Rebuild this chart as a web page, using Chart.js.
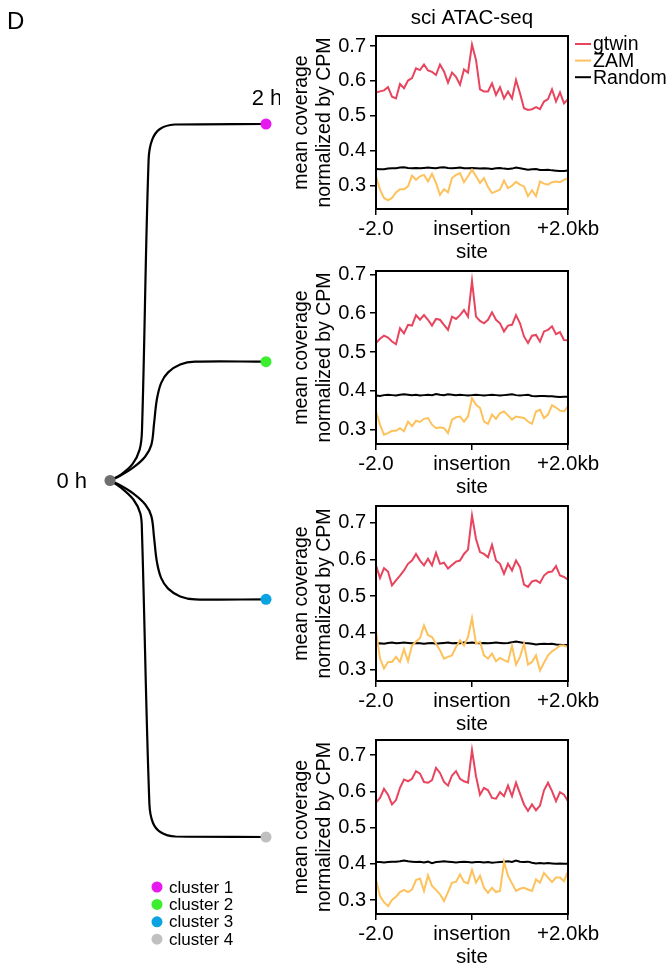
<!DOCTYPE html>
<html>
<head>
<meta charset="utf-8">
<title>sci ATAC-seq profiles</title>
<script src="https://cdn.jsdelivr.net/npm/chart.js@4.4.0/dist/chart.umd.min.js"></script>
<style>
  html, body { margin: 0; padding: 0; background: #fff; }
  #wrap { position: relative; width: 668px; height: 963px; overflow: hidden; }
  canvas { position: absolute; }
</style>
</head>
<body>
<div id="wrap">
  <canvas id="tree"></canvas>
  <canvas id="p1"></canvas>
  <canvas id="p2"></canvas>
  <canvas id="p3"></canvas>
  <canvas id="p4"></canvas>
</div>
<script>
// Profile bins: -2.0 kb .. +2.0 kb around the insertion site
const bins = [];
for (let i = 0; i <= 48; i++) bins.push(-2 + i / 12);
const xTicks = [-2, 0, 2];
const xTickLabels = ['-2.0', ['insertion', 'site'], '+2.0kb'];
const yTicks = [0.3, 0.4, 0.5, 0.6, 0.7];
const seriesNames = ['gtwin', 'ZAM', 'Random'];

// cluster 1
const gtwin1 = [0.567,0.570,0.573,0.582,0.555,0.550,0.591,0.579,0.601,0.608,0.636,0.631,0.647,0.630,0.626,0.617,0.647,0.627,0.595,0.624,0.612,0.589,0.633,0.624,0.704,0.660,0.576,0.570,0.570,0.593,0.560,0.582,0.550,0.570,0.550,0.603,0.565,0.522,0.517,0.519,0.525,0.519,0.541,0.548,0.576,0.541,0.567,0.536,0.548];
const zam1 = [0.327,0.289,0.265,0.258,0.265,0.281,0.290,0.290,0.298,0.329,0.317,0.327,0.331,0.312,0.334,0.308,0.274,0.290,0.281,0.322,0.331,0.336,0.310,0.327,0.346,0.327,0.308,0.322,0.296,0.279,0.284,0.289,0.315,0.293,0.300,0.311,0.303,0.298,0.270,0.287,0.270,0.312,0.306,0.303,0.310,0.312,0.310,0.317,0.322];
const random1 = [0.348,0.347,0.347,0.349,0.350,0.350,0.352,0.353,0.351,0.350,0.351,0.350,0.351,0.352,0.351,0.350,0.352,0.353,0.351,0.350,0.351,0.352,0.350,0.350,0.351,0.350,0.349,0.350,0.349,0.348,0.350,0.351,0.349,0.348,0.349,0.352,0.350,0.348,0.346,0.347,0.348,0.345,0.345,0.346,0.344,0.343,0.342,0.342,0.344];
// cluster 2
const gtwin2 = [0.523,0.534,0.542,0.537,0.527,0.520,0.561,0.548,0.570,0.568,0.595,0.583,0.595,0.583,0.568,0.585,0.583,0.570,0.557,0.591,0.585,0.595,0.608,0.591,0.683,0.591,0.580,0.574,0.583,0.602,0.583,0.574,0.553,0.568,0.570,0.595,0.574,0.540,0.523,0.542,0.544,0.527,0.553,0.557,0.566,0.546,0.551,0.531,0.530];
const zam2 = [0.347,0.313,0.287,0.291,0.297,0.297,0.304,0.296,0.321,0.309,0.323,0.320,0.328,0.330,0.313,0.304,0.306,0.304,0.291,0.326,0.332,0.334,0.321,0.334,0.381,0.364,0.356,0.321,0.315,0.339,0.328,0.343,0.347,0.337,0.326,0.334,0.332,0.330,0.321,0.315,0.347,0.351,0.330,0.339,0.363,0.357,0.349,0.347,0.360];
const random2 = [0.388,0.387,0.389,0.390,0.389,0.388,0.390,0.391,0.390,0.389,0.390,0.388,0.389,0.390,0.389,0.392,0.390,0.389,0.391,0.390,0.389,0.390,0.389,0.388,0.389,0.390,0.389,0.388,0.389,0.390,0.389,0.388,0.389,0.390,0.391,0.389,0.388,0.389,0.390,0.387,0.386,0.387,0.387,0.386,0.386,0.385,0.384,0.385,0.385];
// cluster 3
const gtwin3 = [0.584,0.549,0.576,0.567,0.529,0.543,0.556,0.570,0.588,0.597,0.615,0.597,0.584,0.602,0.584,0.618,0.588,0.591,0.575,0.585,0.594,0.597,0.615,0.627,0.720,0.656,0.620,0.615,0.606,0.640,0.597,0.588,0.561,0.588,0.570,0.597,0.579,0.531,0.525,0.540,0.543,0.536,0.556,0.565,0.567,0.582,0.556,0.552,0.545];
const zam3 = [0.404,0.330,0.302,0.320,0.320,0.334,0.320,0.355,0.322,0.365,0.376,0.385,0.420,0.393,0.388,0.370,0.352,0.329,0.334,0.338,0.361,0.379,0.365,0.388,0.440,0.370,0.375,0.338,0.329,0.343,0.322,0.331,0.325,0.320,0.364,0.313,0.334,0.370,0.313,0.320,0.338,0.297,0.318,0.338,0.349,0.356,0.365,0.365,0.361];
const random3 = [0.370,0.371,0.370,0.372,0.373,0.371,0.372,0.373,0.372,0.371,0.372,0.371,0.370,0.371,0.372,0.370,0.371,0.372,0.373,0.371,0.372,0.371,0.373,0.372,0.373,0.372,0.371,0.372,0.371,0.372,0.373,0.372,0.371,0.372,0.374,0.376,0.374,0.372,0.371,0.370,0.368,0.369,0.370,0.369,0.370,0.368,0.367,0.366,0.366];
// cluster 4
const gtwin4 = [0.569,0.582,0.607,0.591,0.564,0.576,0.610,0.633,0.628,0.635,0.656,0.649,0.626,0.624,0.631,0.665,0.651,0.626,0.616,0.644,0.656,0.635,0.628,0.624,0.714,0.642,0.591,0.610,0.603,0.582,0.580,0.598,0.587,0.616,0.587,0.624,0.594,0.564,0.546,0.564,0.548,0.561,0.603,0.624,0.601,0.573,0.598,0.591,0.573];
const zam4 = [0.357,0.311,0.294,0.283,0.300,0.309,0.322,0.328,0.322,0.329,0.355,0.359,0.325,0.368,0.339,0.328,0.316,0.297,0.322,0.348,0.350,0.371,0.350,0.346,0.383,0.348,0.367,0.334,0.320,0.334,0.322,0.325,0.405,0.367,0.346,0.325,0.331,0.334,0.329,0.325,0.357,0.348,0.375,0.362,0.350,0.362,0.362,0.352,0.380];
const random4 = [0.405,0.405,0.404,0.405,0.406,0.406,0.407,0.409,0.407,0.406,0.405,0.406,0.404,0.406,0.402,0.405,0.406,0.407,0.406,0.405,0.404,0.405,0.406,0.405,0.404,0.405,0.405,0.404,0.405,0.403,0.404,0.405,0.406,0.407,0.405,0.409,0.406,0.405,0.406,0.403,0.401,0.402,0.401,0.402,0.401,0.400,0.401,0.400,0.400];

// y limits of each panel
const yMins = [0.2334, 0.2632, 0.268, 0.2614];
const yMaxs = [0.7286, 0.7085, 0.746, 0.742];

// Tree: x = time (h), y = cluster row (root sits between rows 2 and 3)
const clusterNames = ['cluster 1', 'cluster 2', 'cluster 3', 'cluster 4'];
const clusterColors = ['#e619f0', '#3cee30', '#0aa3e2', '#c0c0c0'];
const rootColor = '#6e6e6e';
const treeNodes = [{x: 0, y: 2.5}, {x: 2, y: 1}, {x: 2, y: 2}, {x: 2, y: 3}, {x: 2, y: 4}];
const branch1 = [{x:0,y:2.5},{x:0.14,y:2.475},{x:0.29,y:2.43},{x:0.38,y:2.37},{x:0.41,y:2.29},{x:0.495,y:1.15},{x:0.54,y:1.067},{x:0.64,y:1.021},{x:0.83,y:1.002},{x:2,y:1}];
const branch2 = [{x:0,y:2.5},{x:0.13,y:2.48},{x:0.3,y:2.445},{x:0.45,y:2.4},{x:0.53,y:2.35},{x:0.565,y:2.26},{x:0.6,y:2.16},{x:0.655,y:2.09},{x:0.745,y:2.045},{x:0.9,y:2.012},{x:1.09,y:2},{x:2,y:2}];
const branch3 = [{x:0,y:2.5},{x:0.13,y:2.52},{x:0.3,y:2.555},{x:0.45,y:2.6},{x:0.53,y:2.65},{x:0.565,y:2.74},{x:0.6,y:2.84},{x:0.655,y:2.91},{x:0.745,y:2.955},{x:0.9,y:2.988},{x:1.09,y:3},{x:2,y:3}];
const branch4 = [{x:0,y:2.5},{x:0.14,y:2.53},{x:0.3,y:2.58},{x:0.39,y:2.64},{x:0.41,y:2.72},{x:0.505,y:3.86},{x:0.55,y:3.94},{x:0.65,y:3.98},{x:0.84,y:3.998},{x:2,y:4}];

const FONT = '"Liberation Sans", Arial, Helvetica, sans-serif';
const RED = '#e8445e';
const YELLOW = '#fdc25c';
Chart.defaults.font.family = FONT;
Chart.defaults.color = '#000';

// black box round the plot area
const framePlugin = {
  id: 'frame',
  afterDatasetsDraw(chart) {
    const { ctx, chartArea: a } = chart;
    ctx.save();
    ctx.strokeStyle = '#000';
    ctx.lineWidth = 2;
    ctx.strokeRect(a.left, a.top, a.right - a.left, a.bottom - a.top);
    ctx.restore();
  }
};

// line legend to the right of the first panel
const seriesLegend = {
  id: 'seriesLegend',
  afterDraw(chart) {
    const { ctx, chartArea: a } = chart;
    ctx.save();
    ctx.font = '19.5px ' + FONT;
    ctx.textBaseline = 'middle';
    chart.data.datasets.forEach((ds, i) => {
      const y = a.top + 8 + i * 16.6;
      ctx.strokeStyle = ds.borderColor;
      ctx.lineWidth = 2;
      ctx.beginPath();
      ctx.moveTo(a.right + 7, y);
      ctx.lineTo(a.right + 23, y);
      ctx.stroke();
      ctx.fillStyle = '#000';
      ctx.fillText(ds.label, a.right + 25, y + 1);
    });
    ctx.restore();
  }
};

function toPoints(vals) {
  return vals.map((v, i) => ({ x: bins[i], y: v }));
}

function makePanel(id, top, height, series, k) {
  const first = k === 0;
  const canvas = document.getElementById(id);
  canvas.width = 388;
  canvas.height = height;
  canvas.style.left = '280px';
  canvas.style.top = top + 'px';
  const colors = [RED, YELLOW, '#000'];
  return new Chart(canvas, {
    type: 'line',
    data: {
      datasets: series.map((vals, i) => ({
        label: seriesNames[i],
        data: toPoints(vals),
        borderColor: colors[i],
        borderWidth: 2,
        pointRadius: 0,
        tension: 0
      }))
    },
    options: {
      responsive: false,
      animation: false,
      devicePixelRatio: 1,
      layout: { padding: { top: first ? 0 : 18, right: 100, left: 0, bottom: 0 } },
      plugins: {
        legend: { display: false },
        tooltip: { enabled: false },
        title: {
          display: first,
          text: 'sci ATAC-seq',
          fullSize: false,
          color: '#000',
          font: { size: 20.5, weight: 'normal', lineHeight: 1.2 },
          padding: { top: 6.4, bottom: 5 }
        }
      },
      scales: {
        x: {
          type: 'linear',
          min: -2,
          max: 2,
          afterBuildTicks: s => { s.ticks = xTicks.map(v => ({ value: v })); },
          afterFit: s => { s.height = 60; },
          ticks: {
            autoSkip: false,
            maxRotation: 0,
            padding: 2.2,
            color: '#000',
            font: { size: 20.5, lineHeight: 1.15 },
            callback: v => xTickLabels[xTicks.indexOf(v)]
          },
          grid: { drawOnChartArea: false, tickLength: 6, color: '#000', lineWidth: 1.5 },
          border: { display: false }
        },
        y: {
          min: yMins[k],
          max: yMaxs[k],
          afterBuildTicks: s => { s.ticks = yTicks.map(v => ({ value: v })); },
          afterFit: s => { s.width = 96; },
          ticks: {
            padding: 4,
            color: '#000',
            font: { size: 20 },
            callback: v => v.toFixed(1)
          },
          grid: { drawOnChartArea: false, tickLength: 6, color: '#000', lineWidth: 1.5 },
          border: { display: false },
          title: {
            display: true,
            text: ['mean coverage', 'normalized by CPM'],
            color: '#000',
            font: { size: 19.5, lineHeight: 1.2 },
            padding: { top: 10, bottom: 0 }
          }
        }
      }
    },
    plugins: first ? [framePlugin, seriesLegend] : [framePlugin]
  });
}

makePanel('p1', 0, 269, [gtwin1, zam1, random1], 0);
makePanel('p2', 253, 251, [gtwin2, zam2, random2], 1);
makePanel('p3', 488, 253, [gtwin3, zam3, random3], 2);
makePanel('p4', 722, 252, [gtwin4, zam4, random4], 3);

// Tree texts: panel letter, time labels and cluster key
const treeLabels = {
  id: 'treeLabels',
  afterDraw(chart) {
    const { ctx, scales: { x, y } } = chart;
    ctx.save();
    ctx.fillStyle = '#000';
    ctx.textBaseline = 'middle';
    ctx.font = '24px ' + FONT;
    ctx.textAlign = 'left';
    ctx.fillText('D', 7, 22);
    ctx.font = '22px ' + FONT;
    ctx.textAlign = 'right';
    ctx.fillText('0 h', x.getPixelForValue(0) - 23, y.getPixelForValue(2.5) + 1);
    ctx.textAlign = 'center';
    ctx.fillText('2 h', x.getPixelForValue(2) + 1, y.getPixelForValue(1) - 25);
    ctx.font = '17px ' + FONT;
    ctx.textAlign = 'left';
    clusterNames.forEach((name, i) => {
      const cy = 887 + i * 17.4;
      ctx.fillStyle = clusterColors[i];
      ctx.beginPath();
      ctx.arc(157, cy, 5.5, 0, Math.PI * 2);
      ctx.fill();
      ctx.fillStyle = '#000';
      ctx.fillText(name, 169, cy + 1);
    });
    ctx.restore();
  }
};

const treeCanvas = document.getElementById('tree');
treeCanvas.width = 280;
treeCanvas.height = 963;
treeCanvas.style.left = '0px';
treeCanvas.style.top = '0px';
const branchSet = b => ({ data: b, showLine: true, borderColor: '#000', borderWidth: 2.2, pointRadius: 0, tension: 0.35, clip: false });
new Chart(treeCanvas, {
  type: 'scatter',
  data: {
    datasets: [
      { data: treeNodes, pointRadius: 5.5, pointBorderWidth: 0, pointBackgroundColor: [rootColor, ...clusterColors], showLine: false, clip: false },
      branchSet(branch1), branchSet(branch2), branchSet(branch3), branchSet(branch4)
    ]
  },
  options: {
    responsive: false,
    animation: false,
    devicePixelRatio: 1,
    layout: { padding: { left: 110, right: 14, top: 124, bottom: 126 } },
    plugins: { legend: { display: false }, tooltip: { enabled: false } },
    scales: {
      x: { type: 'linear', min: 0, max: 2, display: false },
      y: { type: 'linear', min: 1, max: 4, reverse: true, display: false }
    }
  },
  plugins: [treeLabels]
});
</script>
</body>
</html>
